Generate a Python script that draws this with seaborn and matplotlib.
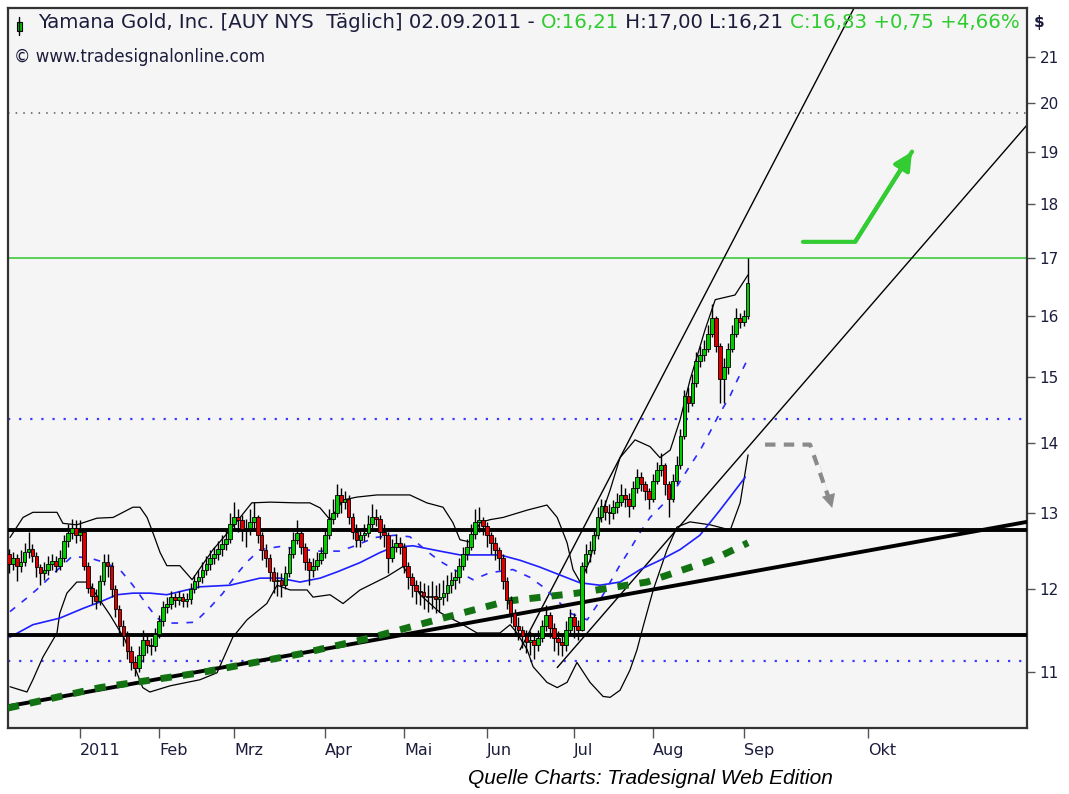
import matplotlib
matplotlib.use("Agg")
import matplotlib.pyplot as plt
from matplotlib.ticker import FixedLocator, NullLocator, FuncFormatter
from matplotlib.patches import Rectangle
import seaborn as sns

# bar index 0 = 03.01.2011, first visible bar is index -18
first_bar = -18

opens = [12.45, 12.32, 12.40, 12.30, 12.35, 12.48, 12.52, 12.42, 12.28, 12.20,
         12.25, 12.32, 12.36, 12.30, 12.40, 12.62, 12.73, 12.80, 12.70, 12.75,
         12.30, 12.02, 11.92, 11.85, 12.10, 12.35, 12.30, 12.00, 11.75, 11.55,
         11.42, 11.25, 11.12, 11.05, 11.20, 11.37, 11.32, 11.30, 11.45, 11.60,
         11.78, 11.82, 11.90, 11.86, 11.90, 11.85, 11.88, 12.00, 12.10, 12.15,
         12.25, 12.32, 12.40, 12.45, 12.52, 12.58, 12.65, 12.85, 12.95, 12.90,
         12.78, 12.80, 12.88, 12.95, 12.70, 12.50, 12.40, 12.22, 12.10, 12.12,
         12.05, 12.20, 12.45, 12.64, 12.73, 12.55, 12.35, 12.24, 12.30, 12.38,
         12.46, 12.70, 12.92, 13.00, 13.25, 13.15, 13.20, 12.95, 12.75, 12.64,
         12.70, 12.73, 12.85, 12.95, 12.92, 12.75, 12.70, 12.40, 12.55, 12.60,
         12.55, 12.30, 12.15, 12.05, 11.98, 11.96, 11.92, 11.90, 11.92, 11.88,
         11.90, 11.95, 12.05, 12.12, 12.15, 12.30, 12.45, 12.55, 12.72, 12.88,
         12.90, 12.82, 12.70, 12.60, 12.50, 12.40, 12.10, 11.87, 11.70, 11.55,
         11.50, 11.42, 11.35, 11.38, 11.32, 11.40, 11.55, 11.68, 11.52, 11.40,
         11.35, 11.32, 11.50, 11.66, 11.55, 11.50, 12.30, 12.45, 12.50, 12.70,
         12.95, 13.10, 13.02, 13.00, 13.08, 13.15, 13.25, 13.20, 13.10, 13.35,
         13.50, 13.40, 13.30, 13.20, 13.45, 13.60, 13.67, 13.40, 13.20, 13.45,
         13.67, 14.10, 14.70, 14.60, 14.90, 15.26, 15.35, 15.45, 15.70, 15.96,
         15.50, 14.97, 15.15, 15.45, 15.70, 15.96, 15.90, 16.00]

highs = [12.52, 12.48, 12.45, 12.50, 12.60, 12.75, 12.58, 12.48, 12.32, 12.35,
         12.42, 12.45, 12.42, 12.50, 12.70, 12.85, 12.92, 12.90, 12.90, 12.78,
         12.35, 12.08, 12.00, 12.18, 12.45, 12.45, 12.35, 12.05, 11.80, 11.62,
         11.48, 11.30, 11.18, 11.30, 11.50, 11.45, 11.40, 11.52, 11.68, 11.85,
         11.90, 11.98, 11.95, 11.98, 11.95, 11.95, 12.08, 12.18, 12.25, 12.35,
         12.42, 12.50, 12.55, 12.62, 12.70, 12.78, 13.00, 13.15, 13.05, 12.98,
         12.92, 13.05, 13.15, 12.98, 12.75, 12.58, 12.45, 12.28, 12.22, 12.20,
         12.30, 12.55, 12.75, 12.90, 12.80, 12.60, 12.40, 12.40, 12.48, 12.55,
         12.78, 13.05, 13.20, 13.40, 13.35, 13.30, 13.25, 13.00, 12.85, 12.80,
         12.85, 12.98, 13.12, 13.05, 12.98, 12.85, 12.75, 12.65, 12.72, 12.68,
         12.60, 12.35, 12.20, 12.12, 12.10, 12.08, 12.05, 12.10, 12.05, 12.08,
         12.12, 12.18, 12.22, 12.25, 12.40, 12.55, 12.65, 12.85, 13.05, 13.08,
         12.95, 12.88, 12.75, 12.68, 12.55, 12.45, 12.15, 11.92, 11.75, 11.65,
         11.55, 11.50, 11.48, 11.45, 11.50, 11.62, 11.80, 11.72, 11.58, 11.48,
         11.45, 11.60, 11.75, 11.70, 11.62, 12.35, 12.58, 12.62, 12.80, 13.08,
         13.20, 13.18, 13.12, 13.18, 13.28, 13.40, 13.35, 13.28, 13.45, 13.62,
         13.58, 13.45, 13.35, 13.55, 13.72, 13.85, 13.70, 13.45, 13.55, 13.80,
         14.20, 14.80, 14.85, 15.05, 15.40, 15.50, 15.60, 15.85, 16.20, 16.00,
         15.55, 15.30, 15.55, 15.85, 16.12, 16.05, 16.10, 17.00]

lows = [12.20, 12.25, 12.10, 12.22, 12.30, 12.40, 12.35, 12.15, 12.05, 12.12,
        12.18, 12.25, 12.22, 12.25, 12.35, 12.55, 12.65, 12.60, 12.62, 12.25,
        11.95, 11.82, 11.75, 11.80, 12.05, 12.15, 11.90, 11.65, 11.45, 11.30,
        11.15, 11.02, 10.95, 11.00, 11.12, 11.22, 11.20, 11.25, 11.40, 11.55,
        11.70, 11.75, 11.78, 11.80, 11.78, 11.78, 11.82, 11.95, 12.02, 12.08,
        12.18, 12.25, 12.32, 12.38, 12.42, 12.50, 12.60, 12.78, 12.75, 12.62,
        12.55, 12.70, 12.80, 12.60, 12.38, 12.28, 12.10, 11.95, 11.92, 11.90,
        12.00, 12.15, 12.40, 12.58, 12.45, 12.25, 12.05, 12.15, 12.25, 12.32,
        12.40, 12.65, 12.85, 12.95, 13.00, 13.05, 12.85, 12.65, 12.55, 12.55,
        12.62, 12.68, 12.80, 12.82, 12.65, 12.55, 12.20, 12.35, 12.48, 12.45,
        12.20, 12.00, 11.90, 11.82, 11.80, 11.75, 11.72, 11.75, 11.70, 11.72,
        11.80, 11.85, 11.95, 12.00, 12.08, 12.25, 12.38, 12.50, 12.65, 12.75,
        12.70, 12.55, 12.45, 12.38, 12.25, 12.00, 11.75, 11.58, 11.42, 11.38,
        11.28, 11.22, 11.20, 11.15, 11.25, 11.35, 11.48, 11.40, 11.25, 11.20,
        11.18, 11.25, 11.45, 11.40, 11.38, 11.48, 12.20, 12.35, 12.45, 12.65,
        12.88, 12.90, 12.85, 12.92, 13.00, 13.10, 13.08, 12.95, 13.05, 13.28,
        13.30, 13.18, 13.05, 13.15, 13.40, 13.52, 13.25, 12.95, 13.15, 13.40,
        13.62, 14.05, 14.45, 14.55, 14.85, 15.15, 15.25, 15.40, 15.65, 15.40,
        14.60, 14.60, 15.05, 15.40, 15.65, 15.80, 15.82, 15.95]

closes = [12.32, 12.40, 12.30, 12.35, 12.48, 12.52, 12.42, 12.28, 12.20, 12.25,
          12.32, 12.36, 12.30, 12.40, 12.62, 12.73, 12.80, 12.70, 12.75, 12.30,
          12.02, 11.92, 11.85, 12.10, 12.35, 12.30, 12.00, 11.75, 11.55, 11.42,
          11.25, 11.12, 11.05, 11.20, 11.37, 11.32, 11.30, 11.45, 11.60, 11.78,
          11.82, 11.90, 11.86, 11.90, 11.85, 11.88, 12.00, 12.10, 12.15, 12.25,
          12.32, 12.40, 12.45, 12.52, 12.58, 12.65, 12.85, 12.95, 12.90, 12.78,
          12.80, 12.88, 12.95, 12.70, 12.50, 12.40, 12.22, 12.10, 12.12, 12.05,
          12.20, 12.45, 12.64, 12.73, 12.55, 12.35, 12.24, 12.30, 12.38, 12.46,
          12.70, 12.92, 13.00, 13.25, 13.15, 13.20, 12.95, 12.75, 12.64, 12.70,
          12.73, 12.85, 12.95, 12.92, 12.75, 12.70, 12.40, 12.55, 12.60, 12.55,
          12.30, 12.15, 12.05, 11.98, 11.96, 11.92, 11.90, 11.92, 11.88, 11.90,
          11.95, 12.05, 12.12, 12.15, 12.30, 12.45, 12.55, 12.72, 12.88, 12.90,
          12.82, 12.70, 12.60, 12.50, 12.40, 12.10, 11.87, 11.70, 11.55, 11.50,
          11.42, 11.35, 11.38, 11.32, 11.40, 11.55, 11.68, 11.52, 11.40, 11.35,
          11.32, 11.50, 11.66, 11.55, 11.50, 12.30, 12.45, 12.50, 12.70, 12.95,
          13.10, 13.02, 13.00, 13.08, 13.15, 13.25, 13.20, 13.10, 13.35, 13.50,
          13.40, 13.30, 13.20, 13.45, 13.60, 13.67, 13.40, 13.20, 13.45, 13.67,
          14.10, 14.70, 14.60, 14.90, 15.26, 15.35, 15.45, 15.70, 15.96, 15.50,
          14.97, 15.15, 15.45, 15.70, 15.96, 15.90, 16.00, 16.55]

# Bollinger bands
bb_up_x = [-17.7, -14.4, -11.9, -5.8, -4.3, -0.8, 4.3, 8.4, 13.4, 15.2, 17.0, 18.5,
           20.3, 22.0, 25.3, 28.4, 33.7, 38.0, 43.5, 48.1, 54.9, 58.2, 60.8, 63.3,
           66.6, 70.1, 75.2, 83.5, 87.8, 91.9, 94.4, 96.2, 98.7, 101.3, 103.8,
           107.1, 113.2, 118.2, 120.8, 123.3, 124.8, 126.6, 129.1, 131.6, 134.2,
           136.7, 140.5, 144.3, 146.8, 149.4, 151.9, 154.4, 158.2, 160.8, 165.8, 169.1]
bb_up_y = [12.67, 12.94, 13.01, 13.01, 12.86, 12.84, 12.93, 12.94, 13.08, 13.08, 12.94,
           12.73, 12.47, 12.30, 12.30, 12.12, 12.51, 12.77, 13.14, 13.15, 13.14, 13.14,
           13.07, 12.91, 13.18, 13.22, 13.25, 13.25, 13.14, 13.08, 12.87, 12.64, 12.61,
           12.87, 12.91, 12.94, 13.04, 13.11, 12.94, 12.60, 12.25, 12.09, 12.37, 12.91,
           13.32, 13.78, 14.04, 13.94, 13.78, 13.89, 14.34, 14.95, 15.76, 16.27, 16.35,
           16.70]
bb_lo_x = [-17.7, -13.4, -11.9, -9.4, -5.8, -5.1, -3.3, -0.8, 2.0, 5.1, 7.6, 11.4,
           13.9, 15.9, 17.7, 22.8, 30.4, 34.7, 38.7, 42.3, 47.3, 49.9, 53.2, 57.5,
           59.0, 63.3, 66.6, 70.9, 77.7, 81.8, 83.5, 86.1, 91.1, 96.2, 100.5, 106.3,
           108.9, 110.6, 113.2, 114.7, 118.2, 120.8, 123.3, 125.8, 129.1, 132.4,
           134.2, 136.7, 139.2, 141.0, 142.5, 145.1, 148.6, 151.1, 154.4, 159.5,
           164.6, 167.1, 169.1]
bb_lo_y = [10.83, 10.77, 10.91, 11.17, 11.46, 11.70, 11.95, 12.09, 12.09, 11.86, 11.68,
           11.38, 11.05, 10.82, 10.77, 10.84, 10.91, 10.99, 11.41, 11.62, 11.82, 12.05,
           11.99, 11.99, 11.90, 11.93, 11.82, 11.99, 12.16, 12.29, 12.16, 11.93, 11.71,
           11.58, 11.46, 11.46, 11.56, 11.46, 11.26, 11.06, 10.88, 10.82, 10.88, 11.11,
           10.88, 10.72, 10.71, 10.79, 11.02, 11.26, 11.53, 11.99, 12.51, 12.81, 12.88,
           12.84, 12.77, 13.14, 13.82]

# middle band (blue dashed) and longer average (blue solid)
mid_x = [-17.7, -13.4, -10.1, -5.6, -2.0, 2.5, 6.3, 10.1, 13.4, 17.0, 19.5, 22.0,
         25.3, 29.1, 32.9, 36.2, 39.2, 42.3, 45.6, 50.6, 60.0, 65.8, 69.1, 74.7,
         79.7, 83.5, 87.8, 91.1, 95.4, 99.5, 103.8, 109.6, 113.9, 117.2, 120.8,
         124.1, 128.4, 130.9, 136.7, 139.2, 141.8, 144.3, 149.4, 153.7, 157.0,
         159.5, 161.5, 164.6, 166.3, 168.9]
mid_y = [11.72, 11.89, 12.03, 12.25, 12.42, 12.40, 12.34, 12.25, 12.05, 11.80, 11.64,
         11.58, 11.58, 11.59, 11.77, 11.95, 12.16, 12.35, 12.51, 12.55, 12.49, 12.49,
         12.55, 12.67, 12.70, 12.68, 12.49, 12.36, 12.23, 12.12, 12.21, 12.25, 12.15,
         12.03, 11.86, 11.70, 11.62, 11.80, 12.31, 12.51, 12.74, 12.94, 13.22, 13.60,
         13.89, 14.16, 14.39, 14.71, 14.94, 15.27]
ma_x = [-17.7, -11.9, -5.1, 0.8, 5.1, 9.4, 13.4, 17.7, 22.0, 30.4, 38.0, 45.6, 50.6,
        55.7, 60.8, 65.1, 70.9, 75.9, 79.2, 84.3, 91.1, 96.2, 106.3, 111.4, 116.5,
        121.5, 126.6, 131.6, 136.7, 141.8, 146.8, 151.9, 156.9, 162.0, 168.4]
ma_y = [11.41, 11.56, 11.64, 11.76, 11.84, 11.93, 11.95, 11.95, 11.93, 12.03, 12.05,
        12.14, 12.14, 12.09, 12.14, 12.22, 12.34, 12.47, 12.54, 12.56, 12.49, 12.44,
        12.44, 12.37, 12.28, 12.18, 12.08, 12.05, 12.09, 12.25, 12.37, 12.51, 12.70,
        13.04, 13.50]

# long green dotted average
long_x = [-18.2, 5.1, 30.4, 55.7, 73.4, 91.1, 108.1, 125.8, 143.5, 160.3, 169.1]
long_y = [10.59, 10.82, 10.99, 11.21, 11.40, 11.63, 11.85, 11.95, 12.09, 12.38, 12.60]

# drawn lines
support_x, support_y = [-18.2, 239.7], [10.61, 12.88]
fan_up_x, fan_up_y = [111.4, 200.0], [11.26, 22.84]
fan_lo_x, fan_lo_y = [120.8, 239.7], [11.05, 19.55]
black_levels = [12.77, 11.44]
blue_levels = [14.35, 11.13]
green_level = 17.0
dotted_level = 19.8
up_arrow_x, up_arrow_y = [183.0, 196.2, 210.6], [17.29, 17.29, 19.01]
down_arrow_x, down_arrow_y = [173.4, 184.8, 190.4], [13.97, 13.97, 13.07]

month_pos = [0, 20, 39, 62, 82, 103, 125, 145, 168, 199.5]
month_labels = ["2011", "Feb", "Mrz", "Apr", "Mai", "Jun", "Jul", "Aug", "Sep", "Okt"]
price_ticks = list(range(11, 22))

sns.set_theme(style="white")
plt.rcParams['font.family'] = ['DejaVu Sans']

W, H = 1069, 794
fig = plt.figure(figsize=(W / 100, H / 100), dpi=100)
fig.patch.set_facecolor("white")
ax = fig.add_axes([8 / W, (H - 728) / H, (1027 - 8) / W, (728 - 8) / H])
ax.set_facecolor("#f5f5f5")
ax.set_yscale("log")
ax.set_xlim(-18.2, 239.7)
ax.set_ylim(10.37, 22.11)

dark = "#1c1c3c"
green = "#2ecc2e"

# horizontal levels
for lv in black_levels:
    ax.axhline(lv, color="black", lw=2.8, zorder=4)
for lv in blue_levels:
    ax.axhline(lv, color="#3a3aff", lw=1.6, ls=(0, (1, 4)), zorder=2)
ax.axhline(green_level, color="#3ccc3c", lw=1.2, zorder=2)
ax.axhline(dotted_level, color="#555555", lw=1.1, ls=(0, (1, 4)), zorder=2)

# fan lines and support
sns.lineplot(x=fan_up_x, y=fan_up_y, ax=ax, color="black", lw=1.0, zorder=2)
sns.lineplot(x=fan_lo_x, y=fan_lo_y, ax=ax, color="black", lw=1.0, zorder=2)
sns.lineplot(x=support_x, y=support_y, ax=ax, color="black", lw=2.8, zorder=4)

# indicators
sns.lineplot(x=bb_up_x, y=bb_up_y, ax=ax, color="black", lw=0.9, sort=False, zorder=2)
sns.lineplot(x=bb_lo_x, y=bb_lo_y, ax=ax, color="black", lw=0.9, sort=False, zorder=2)
sns.lineplot(x=ma_x, y=ma_y, ax=ax, color="#1f1fff", lw=1.2, sort=False, zorder=2)
sns.lineplot(x=mid_x, y=mid_y, ax=ax, color="#2a2aff", lw=1.2, sort=False,
             zorder=2).lines[-1].set_dashes((4, 5))
ax.plot(long_x, long_y, color="#137313", lw=5, ls=(0, (1.6, 1.6)), zorder=5,
        solid_capstyle="butt")

# candles
idx = list(range(first_bar, first_bar + len(closes)))
ax.vlines(idx, lows, highs, color="black", lw=1.0, zorder=6)
bottoms = [min(o, c) for o, c in zip(opens, closes)]
heights = [max(abs(c - o), 0.02) for o, c in zip(opens, closes)]
cols = ["#00cc00" if c >= o else "#dd0000" for o, c in zip(opens, closes)]
ax.bar(idx, heights, bottom=bottoms, width=0.92, color=cols, edgecolor="black",
       linewidth=0.6, zorder=7)

# arrows
ax.plot(up_arrow_x, up_arrow_y, color="#33cc33", lw=3, zorder=8)
ax.annotate("", xy=(up_arrow_x[2], up_arrow_y[2]), xytext=(up_arrow_x[1], up_arrow_y[1]),
            arrowprops=dict(arrowstyle="-|>,head_length=0.9,head_width=0.45",
                            color="#33cc33", lw=3, shrinkA=0, shrinkB=0), zorder=8)
ax.plot(down_arrow_x, down_arrow_y, color="#8a8a8a", lw=3, ls=(0, (2.5, 2)), zorder=8)
ax.annotate("", xy=(down_arrow_x[2], down_arrow_y[2]),
            xytext=(down_arrow_x[1] + 2.5, down_arrow_y[1] - 0.3),
            arrowprops=dict(arrowstyle="-|>,head_length=0.8,head_width=0.4",
                            color="#8a8a8a", lw=0.1, shrinkA=0, shrinkB=0), zorder=8)

# axes
ax.yaxis.tick_right()
ax.yaxis.set_major_locator(FixedLocator(price_ticks))
ax.yaxis.set_minor_locator(NullLocator())
ax.yaxis.set_major_formatter(FuncFormatter(lambda v, p: f"{v:.0f}"))
ax.tick_params(axis="y", which="major", right=True, direction="out", length=6,
               width=1, color="#555555", pad=3, labelsize=11, labelcolor=dark)
ax.xaxis.set_major_locator(FixedLocator(month_pos))
ax.set_xticklabels(month_labels, ha="left", fontsize=11.5, color=dark,
                   family=["Liberation Sans Narrow", "DejaVu Sans"])
ax.tick_params(axis="x", bottom=True, direction="out", length=7, width=1,
               color="#555555", pad=4)
for sp in ax.spines.values():
    sp.set_color("#333333")
    sp.set_linewidth(1.6)
ax.set_xlabel("")
ax.set_ylabel("")

# header
ax.add_patch(Rectangle((0.0085, 0.968), 0.0055, 0.013, transform=ax.transAxes,
                       facecolor="#00cc00", edgecolor="black", lw=0.8, zorder=9))
ax.plot([0.0112, 0.0112], [0.962, 0.987], transform=ax.transAxes, color="black",
        lw=1, zorder=9)

parts = [("Yamana Gold, Inc. [AUY NYS  Täglich] 02.09.2011 - ", dark),
         ("O:16,21", green), (" H:17,00 L:16,21 ", dark),
         ("C:16,83 +0,75 +4,66%", green)]
r = fig.canvas.get_renderer()
fs = 12.5
x0, x1 = 38 / W, 1020 / W
probe = fig.text(0, 0, "".join(p for p, _ in parts), fontsize=fs)
wid = probe.get_window_extent(renderer=r).width / W
probe.remove()
fs = fs * (x1 - x0) / wid
xx = x0
for s, c in parts:
    t = fig.text(xx, 1 - 22 / H, s.replace(" ", "\u00a0"), color=c, fontsize=fs,
                 va="center", ha="left")
    xx = t.get_window_extent(renderer=r).x1 / W

fig.text(14 / W, 1 - 57 / H, "© www.tradesignalonline.com", color=dark,
         fontsize=12, va="center", ha="left")
fig.text(1034 / W, 1 - 22 / H, "$", color=dark, fontsize=11, fontweight="bold",
         va="center", ha="left")
fig.text(650 / W, 1 - 779 / H, "Quelle Charts: Tradesignal Web Edition",
         fontsize=15, style="italic", color="black", va="center", ha="center",
         family=["Liberation Sans", "DejaVu Sans"])

fig.savefig("out.png", dpi=100, facecolor="white")
